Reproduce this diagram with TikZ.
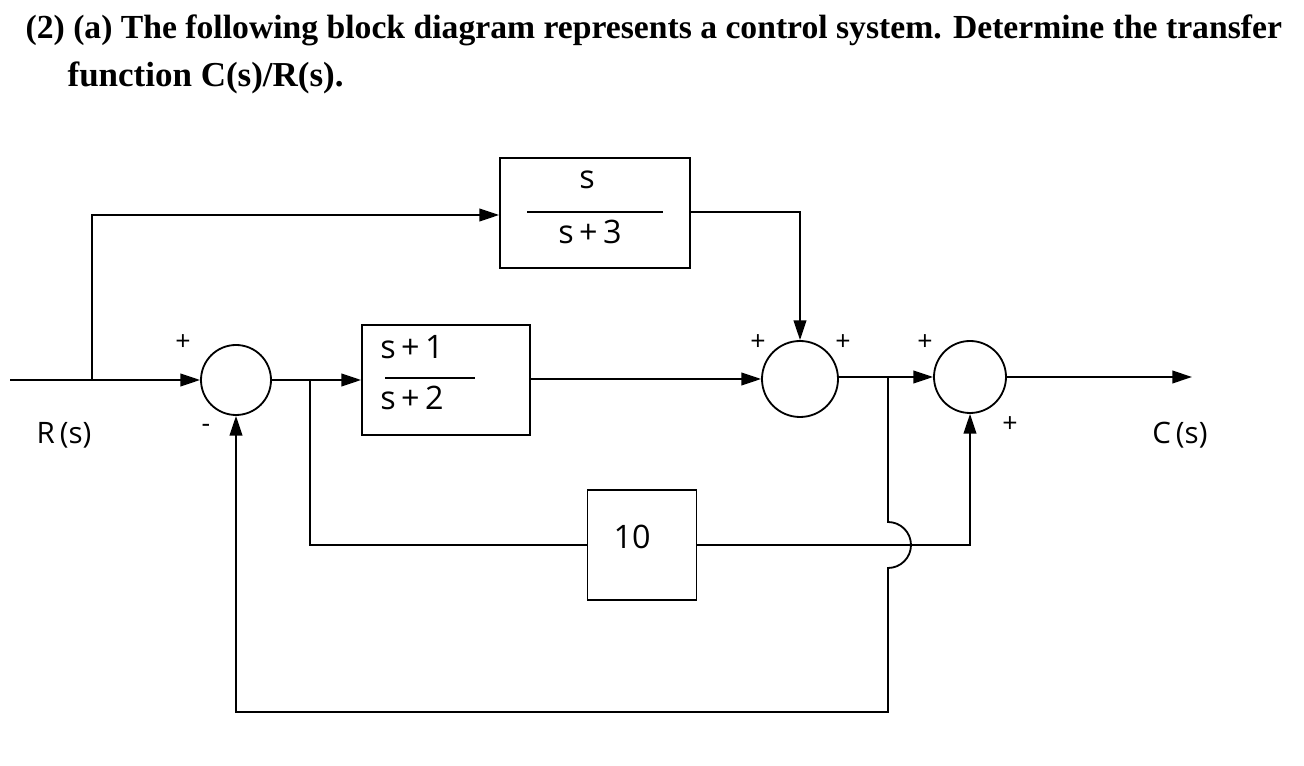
\documentclass[tikz,border=0pt]{standalone}
\usepackage{fontspec}
\setmainfont{Liberation Serif}
\newfontfamily\blk{Open Sans}
\usetikzlibrary{arrows.meta}
\begin{document}
\begin{tikzpicture}[x=0.025cm,y=-0.025cm,line width=1.3pt,
  blockbox/.style={draw,minimum width=#1,inner sep=0pt,font=\blk\fontsize{20}{24}\selectfont},
  sumc/.style={draw,circle,minimum size=70*0.025cm,inner sep=0pt},
  arr/.style={-{Triangle[length=14pt,width=9pt]}},
  lbl/.style={font=\blk\fontsize{19}{22}\selectfont}]
\useasboundingbox (0,0) rectangle (1304,766);
\node[anchor=west,font=\bfseries\fontsize{24}{28}\selectfont] (h1) at (20,30) {\resizebox{31.4cm}{!}{(2) (a) The following block diagram represents a control system. Determine the transfer}};
\node[anchor=west,font=\bfseries\fontsize{24}{28}\selectfont] (h2) at (62,78) {\resizebox{6.9cm}{!}{function C(s)/R(s).}};
\node[blockbox,minimum width=190*0.025cm,minimum height=110*0.025cm] (b1) at (595,213) {};
\node[font=\blk\fontsize{23}{26}\selectfont] (b1n) at (587,180) {s};
\node[font=\blk\fontsize{23}{26}\selectfont] (b1d) at (590,232) {s\,+\,3};
\draw[line width=1pt] (527,212) -- (663,212);
\node[blockbox,minimum width=168*0.025cm,minimum height=110*0.025cm] (b2) at (446,380) {};
\node[font=\blk\fontsize{23}{26}\selectfont] (b2n) at (412,347) {s\,+\,1};
\node[font=\blk\fontsize{23}{26}\selectfont] (b2d) at (412,398) {s\,+\,2};
\draw[line width=1pt] (385,378) -- (475,378);
\node[blockbox,minimum width=109*0.025cm,minimum height=110*0.025cm] (b3) at (642,545) {};
\node[font=\blk\fontsize{23}{26}\selectfont] (b3t) at (632,537) {10};
\node[sumc] (s1) at (236,380) {};
\node[sumc,minimum size=76*0.025cm] (s2) at (800,379) {};
\node[sumc,minimum size=72*0.025cm] (s3) at (970,377) {};
\coordinate (in) at (10,380);
\coordinate (j0) at (92,380);
\coordinate (j1) at (310,380);
\coordinate (j2) at (888,377);
\coordinate (out) at (1192,377);
\draw[arr] (in) -- (s1);
\draw[arr] (j0) |- (b1.west |- 0,215);
\draw (s1) -- (j1);
\draw[arr] (j1) -- (b2.west);
\draw[arr] (b2.east |- 0,379) -- (s2);
\draw[arr] (b1.east |- 0,212) -| (s2.north);
\draw (s2.east |- j2) -- (j2);
\draw[arr] (j2) -- (s3);
\draw[arr] (s3.east) -- (out);
\draw (j1) |- (b3.west);
\draw[arr] (b3.east) -| (s3.south);
\draw[arr] (j2) -- (888,522) arc (-90:90:23) -- (888,712) -| (s1.south);
\node[lbl] (p1) at (183,343) {+};
\node[lbl] (m1) at (206,428) {-};
\node[lbl] (p2) at (758,343) {+};
\node[lbl] (p3) at (843,343) {+};
\node[lbl] (p4) at (925,343) {+};
\node[lbl] (p5) at (1010,425) {+};
\node[font=\blk\fontsize{21}{24}\selectfont] (R) at (64,435) {R\,(s)};
\node[font=\blk\fontsize{21}{24}\selectfont] (C) at (1180,435) {C\,(s)};
\end{tikzpicture}
\end{document}
